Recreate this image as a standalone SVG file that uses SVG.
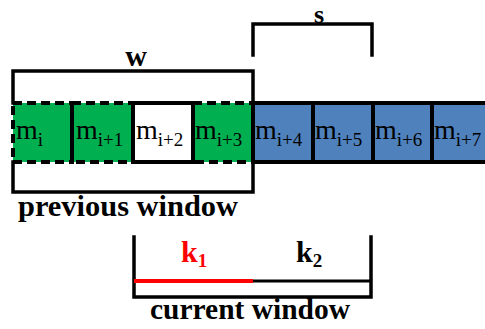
<svg xmlns="http://www.w3.org/2000/svg" width="485" height="329" viewBox="0 0 485 329">
<style>
.g{fill:#00B050;stroke:#000;stroke-width:4;stroke-dasharray:9 5}
.w{fill:#fff;stroke:#000;stroke-width:4}
.b{fill:#4F81BD;stroke:#000;stroke-width:4}
.sep{stroke:#000;stroke-width:4}
.br{fill:none;stroke:#000;stroke-width:3.5;stroke-linecap:square}
.m{font-size:28px}
.sub{font-size:19px}
</style>
<g font-family="'Liberation Serif', 'Times New Roman', Times, serif">
<g id="cell-i"><rect class="g" x="13" y="103" width="59" height="59"/><text class="m" x="16" y="139">m<tspan class="sub" dy="7">i</tspan></text></g>
<g id="cell-i1"><rect class="g" x="72" y="103" width="61" height="59"/><line class="sep" x1="72" y1="103" x2="72" y2="162"/><text class="m" x="76" y="139">m<tspan class="sub" dy="7">i+1</tspan></text></g>
<g id="cell-i3"><rect class="g" x="193" y="103" width="60" height="59"/><text class="m" x="195" y="139">m<tspan class="sub" dy="7">i+3</tspan></text></g>
<g id="cell-i2"><rect class="w" x="133" y="103" width="60" height="59"/><text class="m" x="136" y="139">m<tspan class="sub" dy="7">i+2</tspan></text></g>
<g id="cell-i4"><rect class="b" x="253" y="103" width="60" height="59"/><text class="m" x="255" y="139">m<tspan class="sub" dy="7">i+4</tspan></text></g>
<g id="cell-i5"><rect class="b" x="313" y="103" width="60" height="59"/><text class="m" x="315" y="139">m<tspan class="sub" dy="7">i+5</tspan></text></g>
<g id="cell-i6"><rect class="b" x="373" y="103" width="59" height="59"/><text class="m" x="375" y="139">m<tspan class="sub" dy="7">i+6</tspan></text></g>
<g id="cell-i7"><rect class="b" x="432" y="103" width="60" height="59"/><text class="m" x="434" y="139">m<tspan class="sub" dy="7">i+7</tspan></text></g>
<g id="connectors">
<path id="bracket-w" class="br" d="M13,103 V71 H253 V103"/>
<path id="bracket-s" class="br" d="M253,55 V24 H372 V55"/>
<path id="bracket-prev" class="br" d="M13,162 V192 H253 V162"/>
<path id="bracket-cur" class="br" d="M134,237 V297 H371 V237"/>
<line x1="134" y1="281" x2="253" y2="281" stroke="#FF0000" stroke-width="4"/>
<line x1="253" y1="281" x2="371" y2="281" stroke="#000" stroke-width="3"/>
</g>
<g id="labels" font-weight="bold">
<text font-size="30" x="136" y="66" text-anchor="middle">w</text>
<text font-size="26" x="319" y="23" text-anchor="middle">s</text>
<text font-size="30" x="18" y="216" textLength="220" lengthAdjust="spacingAndGlyphs">previous window</text>
<text font-size="30" x="150" y="319" textLength="200" lengthAdjust="spacingAndGlyphs">current window</text>
<text font-size="30" x="181" y="262" fill="#FF0000">k<tspan font-size="19" dy="5">1</tspan></text>
<text font-size="30" x="296" y="262">k<tspan font-size="19" dy="5">2</tspan></text>
</g>
</g>
</svg>
